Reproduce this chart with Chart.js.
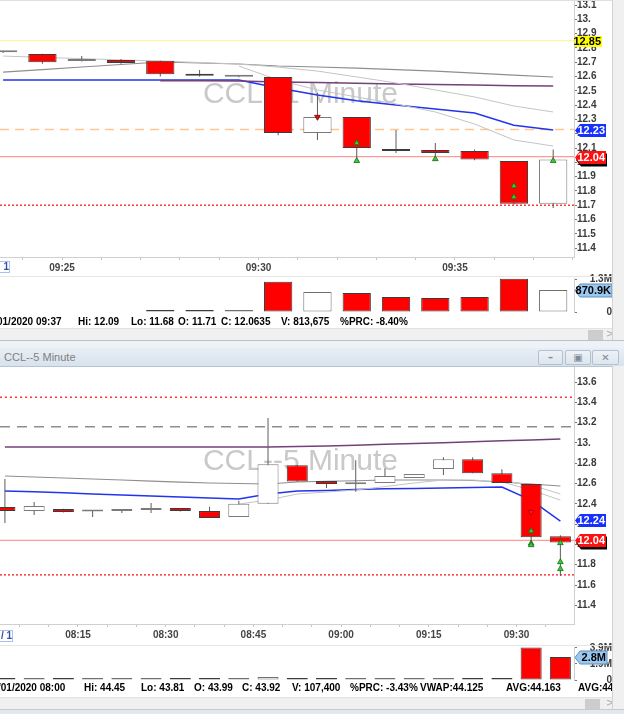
<!DOCTYPE html>
<html>
<head>
<meta charset="utf-8">
<script src="https://cdn.jsdelivr.net/npm/chart.js@4.4.1/dist/chart.umd.min.js"></script>
<style>
  body { margin: 0; width: 624px; height: 714px; position: relative; overflow: hidden; background: #fff; font-family: "Liberation Sans", Arial, sans-serif; }
  canvas { position: absolute; left: 0; }
  .abs { position: absolute; }
  .status { position: absolute; font: bold 10px "Liberation Sans", Arial, sans-serif; color: #000; white-space: pre; }
  .status span { position: absolute; top: 0; }
  .scroll { position: absolute; left: 0; width: 612px; height: 11px; background: #f0f0f0; border-top: 1px solid #e3e3e3; }
  .thumb { position: absolute; top: 1px; width: 15px; height: 10px; background: #cdcdcd; }
  .arrow { position: absolute; top: -1px; left: 606px; font: 10px "DejaVu Sans", sans-serif; color: #a8a8a8; }
  .rframe { position: absolute; left: 612px; width: 12px; background: #f0f0f0; border-left: 1px solid #d2d2d2; }
  .btn { position: absolute; top: 350px; height: 13px; background: linear-gradient(#eef2f7, #dde5ee); border: 1px solid #b3c0ce; border-radius: 2px; text-align: center; font: bold 10px "DejaVu Sans", sans-serif; color: #7d8a98; line-height: 13px; }
</style>
</head>
<body>

<canvas id="topPrice" width="612" height="287" style="top:-10px"></canvas>
<canvas id="topVol" width="612" height="50" style="top:270px"></canvas>
<div class="abs" style="left:0;top:0;width:612px;height:1px;background:#e0e0e0"></div>
<div class="abs" style="left:0;top:276px;width:612px;height:1px;background:#e6e6e6"></div>
<div class="abs" style="left:-3px;top:261px;width:11px;height:10px;border:1px solid #a9c1f0;font:bold 10px 'Liberation Sans',Arial;color:#3050a0;text-align:right;line-height:10px">1</div>

<div class="status" style="left:0;top:316px">
  <span style="left:-3px">01/2020 09:37</span><span style="left:78px">Hi: 12.09</span><span style="left:131px">Lo: 11.68</span><span style="left:178px">O: 11.71</span><span style="left:221px">C: 12.0635</span><span style="left:281px">V: 813,675</span><span style="left:340px">%PRC: -8.40%</span>
</div>
<div class="scroll" style="top:328px"><div class="thumb" style="left:588px"></div><div class="arrow">&gt;</div></div>
<div class="rframe" style="top:0;height:341px"></div>

<div class="abs" style="left:0;top:340px;width:624px;height:8px;background:#eef1f5;border-top:1px solid #b9c2cc"></div>
<div class="abs" style="left:0;top:348px;width:624px;height:18px;background:linear-gradient(#e8eef5,#d8e2ed);border-bottom:1px solid #b6c4d4"></div>
<div class="abs" style="left:4px;top:351px;font:11px 'Liberation Sans',Arial;color:#808080">CCL--5 Minute</div>
<div class="btn" style="left:538px;width:23px">&#8211;</div>
<div class="btn" style="left:565px;width:24px">&#9635;</div>
<div class="btn" style="left:592px;width:25px">&#10005;</div>

<canvas id="bottomPrice" width="612" height="287" style="top:357px"></canvas>
<canvas id="bottomVol" width="612" height="49" style="top:639px"></canvas>
<div class="abs" style="left:0;top:645px;width:612px;height:1px;background:#e6e6e6"></div>
<div class="abs" style="left:-3px;top:630px;width:14px;height:10px;border:1px solid #a9c1f0;font:bold 10px 'Liberation Sans',Arial;color:#3050a0;text-align:right;line-height:10px">/ 1</div>

<div class="status" style="left:0;top:682px">
  <span style="left:-2px">/01/2020 08:00</span><span style="left:84px">Hi: 44.45</span><span style="left:141px">Lo: 43.81</span><span style="left:194px">O: 43.99</span><span style="left:242px">C: 43.92</span><span style="left:292px">V: 107,400</span><span style="left:350px">%PRC: -3.43%</span><span style="left:420px">VWAP:44.125</span><span style="left:506px">AVG:44.163</span><span style="left:578px">AVG:44.0</span>
</div>
<div class="scroll" style="top:697px"><div class="thumb" style="left:585px"></div><div class="arrow">&gt;</div></div>
<div class="rframe" style="top:366px;height:348px"></div>
<div class="abs" style="left:0;top:709px;width:624px;height:5px;background:#e3e8ee;border-top:1px solid #c3ccd6"></div>

<script>
// ---- 1-minute window (top) ----
const topTimes = ['09:23', '09:24', '09:25', '09:26', '09:27', '09:28', '09:29', '09:30', '09:31', '09:32', '09:33', '09:34', '09:35', '09:36', '09:37'];
const topOpen  = [12.770, 12.757, 12.708, 12.715, 12.710, 12.618, 12.598, 12.596, 12.205, 12.317, 12.093, 12.086, 12.080, 12.010, 11.710];
const topHigh  = [12.775, 12.760, 12.743, 12.722, 12.710, 12.645, 12.610, 12.596, 12.485, 12.317, 12.226, 12.135, 12.090, 12.010, 12.090];
const topLow   = [12.765, 12.690, 12.705, 12.690, 12.600, 12.600, 12.595, 12.190, 12.156, 12.002, 12.065, 12.015, 12.015, 11.705, 11.680];
const topClose = [12.772, 12.700, 12.722, 12.695, 12.615, 12.605, 12.600, 12.205, 12.317, 12.100, 12.080, 12.065, 12.020, 11.710, 12.020];
const topVolume = [null, null, null, null, 8000, 8000, 8000, 1188000, 792000, 752000, 594000, 554000, 594000, 1307000, 870900];

const topVwap     = [12.576, 12.576, 12.576, 12.576, 12.576, 12.576, 12.576, 12.520, 12.470, 12.430, 12.400, 12.373, 12.345, 12.260, 12.226];
const topPurple   = [null, null, null, null, 12.570, 12.570, 12.568, 12.562, 12.558, 12.553, 12.548, 12.544, 12.540, 12.536, 12.533];
const topSma      = [12.631, 12.648, 12.666, 12.684, 12.701, 12.694, 12.687, 12.673, 12.666, 12.659, 12.648, 12.638, 12.624, 12.610, 12.597];
const topBandUp   = [12.743, 12.734, 12.725, 12.716, 12.708, 12.698, 12.687, 12.666, 12.638, 12.597, 12.555, 12.506, 12.457, 12.394, 12.352];
const topBandLow  = [null, null, null, null, null, null, 12.673, 12.576, 12.506, 12.457, 12.408, 12.352, 12.268, 12.156, 12.114];

const topUpMarks   = [['09:32', 12.135], ['09:32', 12.010], ['09:34', 12.023], ['09:36', 11.834], ['09:36', 11.757], ['09:37', 12.010]];
const topDownMarks = [['09:31', 12.317]];

const topPriceTicks = [11.4, 11.5, 11.6, 11.7, 11.8, 11.9, 12.0, 12.1, 12.2, 12.3, 12.4, 12.5, 12.6, 12.7, 12.8, 12.9, 13.0, 13.1];
const topVolTicks = [0, 1300000];

// ---- 5-minute window (bottom) ----
const botTimes = ['08:00', '08:05', '08:10', '08:15', '08:20', '08:25', '08:30', '08:35', '08:40', '08:45', '08:50', '08:55', '09:00', '09:05', '09:10', '09:15', '09:20', '09:25', '09:30', '09:35'];
const botOpen  = [12.368, 12.329, 12.349, 12.324, 12.330, 12.339, 12.359, 12.329, 12.270, 12.400, 12.780, 12.625, 12.594, 12.605, 12.654, 12.743, 12.840, 12.700, 12.595, 12.080];
const botHigh  = [12.644, 12.418, 12.352, 12.334, 12.349, 12.408, 12.360, 12.370, 12.430, 13.245, 12.780, 12.625, 12.830, 12.750, 12.694, 12.860, 12.860, 12.740, 12.595, 12.090];
const botLow   = [12.211, 12.290, 12.315, 12.270, 12.310, 12.310, 12.325, 12.260, 12.270, 12.400, 12.620, 12.555, 12.520, 12.605, 12.654, 12.683, 12.700, 12.605, 11.990, 11.690];
const botClose = [12.329, 12.378, 12.319, 12.326, 12.332, 12.359, 12.329, 12.260, 12.400, 12.790, 12.620, 12.595, 12.596, 12.675, 12.694, 12.840, 12.700, 12.605, 12.070, 12.020];
const botVolume = [90000, 80000, 85000, 80000, 75000, 80000, 70000, 95000, 90000, 360000, 70000, 90000, 80000, 70000, 75000, 95000, 70000, 75000, 3950000, 2800000];

const botVwap    = [12.526, 12.518, 12.508, 12.498, 12.488, 12.478, 12.468, 12.458, 12.447, 12.497, 12.526, 12.532, 12.540, 12.548, 12.552, 12.556, 12.562, 12.566, 12.437, 12.230];
const botPurple  = [12.960, 12.960, 12.960, 12.960, 12.960, 12.960, 12.960, 12.960, 12.960, 12.960, 12.965, 12.970, 12.978, 12.986, 12.994, 13.002, 13.012, 13.022, 13.030, 13.038];
const botSma     = [12.674, 12.664, 12.654, 12.644, 12.634, 12.624, 12.614, 12.605, 12.600, 12.595, 12.615, 12.622, 12.628, 12.635, 12.635, 12.635, 12.630, 12.615, 12.595, 12.575];
const botBandUp  = [null, null, null, null, null, null, null, null, null, null, null, null, null, null, null, null, null, 12.625, 12.585, 12.497];
const botBandLow = [null, null, null, null, null, null, null, null, 12.398, 12.437, 12.497, 12.516, 12.536, 12.570, 12.605, 12.635, 12.635, 12.615, 12.536, 12.437];

const botUpMarks   = [['09:30', 12.132], ['09:30', 12.010], ['09:30', 11.994], ['09:35', 12.014], ['09:35', 11.827], ['09:35', 11.758]];
const botDownMarks = [['09:30', 12.319]];

const botPriceTicks = [11.4, 11.6, 11.8, 12.0, 12.2, 12.4, 12.6, 12.8, 13.0, 13.2, 13.4, 13.6];
const botVolTicks = [0, 1950000, 3900000];

const FONT = '"Liberation Sans", Arial, sans-serif';
const toMin = s => { const [h, m] = s.split(':').map(Number); return h * 60 + m; };
const hhmm = m => String(Math.floor(m / 60)).padStart(2, '0') + ':' + String(m % 60).padStart(2, '0');
const priceLabel = v => (Math.abs(v - Math.round(v)) < 1e-9 ? Math.round(v) + '.' : v.toFixed(1));
const volLabel = v => (v === 0 ? '0' : (Math.floor(v / 1e5) / 10).toFixed(1) + 'M');
// keep the axes from adding their own label padding around the plot
const fixWidth = s => { s.width = 38; s.paddingTop = 0; s.paddingBottom = 0; };
const fixHeight = s => { s.height = 20; s.paddingLeft = 0; s.paddingRight = 0; };

function candleSets(times, half, o, h, l, c) {
  const xs = times.map(t => toMin(t) + half);
  const up = c.map((v, i) => v >= o[i]);
  return [
    { type: 'bar', data: xs.map((x, i) => ({ x, y: [l[i], h[i]] })), backgroundColor: '#5c5c5c', borderWidth: 0,
      maxBarThickness: 1, grouped: false, order: 3 },
    { type: 'bar', data: xs.map((x, i) => ({ x, y: [o[i], c[i]] })),
      backgroundColor: up.map(u => (u ? '#ffffff' : '#ff0000')), borderColor: up.map(u => (u ? '#7a7a7a' : '#3c3c3c')),
      borderWidth: 1, borderSkipped: false, minBarLength: 2, barPercentage: 0.72, categoryPercentage: 1, grouped: false, order: 2 }
  ];
}

function lineSet(times, half, vals, color, width) {
  return { type: 'line', data: times.map((t, i) => ({ x: toMin(t) + half, y: vals[i] })).filter(p => p.y !== null),
    borderColor: color, borderWidth: width, pointRadius: 0, tension: 0, fill: false, order: 5 };
}

function levelSet(y, xMin, xMax, color, dash, width) {
  return { type: 'line', data: [{ x: xMin, y }, { x: xMax, y }], borderColor: color, borderDash: dash,
    borderWidth: width, pointRadius: 0, fill: false, order: 8 };
}

function markSet(marks, half, fill, border, rotation) {
  return { type: 'scatter', data: marks.map(([t, y]) => ({ x: toMin(t) + half, y })), pointStyle: 'triangle',
    pointRadius: 3.3, backgroundColor: fill, borderColor: border, borderWidth: 0.8, rotation, order: 1 };
}

function watermark(text) {
  return { id: 'watermark', beforeDatasetsDraw(chart) {
    const ctx = chart.ctx;
    ctx.save();
    ctx.font = '30px ' + FONT;
    ctx.fillStyle = '#c9c9c9';
    ctx.textAlign = 'right';
    ctx.textBaseline = 'alphabetic';
    ctx.fillText(text, 398, chart.chartArea.top + 103);
    ctx.restore();
  } };
}

// coloured value tags on the right axis
function tagPlugin(tags) {
  return { id: 'tags', afterDraw(chart) {
    const ctx = chart.ctx, sy = chart.scales.y, x0 = chart.chartArea.right;
    tags.forEach(t => {
      const py = Math.round(sy.getPixelForValue(t.value)) + 0.5;
      const hh = 6.5, x1 = x0 + t.w;
      const path = () => {
        ctx.beginPath();
        if (t.arrow) {
          ctx.moveTo(x0 + 1, py); ctx.lineTo(x0 + 6, py - hh); ctx.lineTo(x1, py - hh);
          ctx.lineTo(x1, py + hh); ctx.lineTo(x0 + 6, py + hh); ctx.closePath();
        } else {
          ctx.rect(x0 + 1, py - hh + 1, t.w - 1, hh * 2 - 2);
        }
      };
      ctx.save();
      if (t.shadow) {
        ctx.save(); ctx.translate(1, 2.5); path(); ctx.fillStyle = '#000'; ctx.fill(); ctx.restore();
      }
      path();
      ctx.fillStyle = t.bg; ctx.fill();
      if (t.edge) { ctx.strokeStyle = t.edge; ctx.lineWidth = 1; ctx.stroke(); }
      ctx.fillStyle = t.fg;
      ctx.font = 'bold ' + (t.size || 11) + 'px ' + FONT;
      ctx.textBaseline = 'middle';
      ctx.textAlign = 'right';
      ctx.fillText(t.text, x1 - 1, py + 0.5);
      ctx.restore();
    });
  } };
}

function priceChart(id, o) {
  return new Chart(document.getElementById(id), {
    type: 'bar',
    data: { datasets: o.datasets },
    options: {
      responsive: false, animation: false,
      layout: { autoPadding: false, padding: { top: 10, left: 0, right: 0, bottom: 0 } },
      plugins: { legend: { display: false }, tooltip: { enabled: false } },
      scales: {
        x: {
          type: 'linear', min: o.xMin, max: o.xMax, offset: false,
          afterFit: fixHeight,
          ticks: { stepSize: o.step, includeBounds: false, autoSkip: false, maxRotation: 0, padding: 2,
            font: { family: FONT, size: 10, weight: 'bold' }, color: '#444',
            callback: v => (Math.round(v) % o.every === 0 ? hhmm(Math.round(v)) : '') },
          grid: { drawOnChartArea: false, tickLength: 3, color: '#c4c4c4', offset: false },
          border: { color: '#d0d0d0' }
        },
        y: {
          position: 'right', min: o.yMin, max: o.yMax,
          afterFit: fixWidth,
          afterBuildTicks: s => { s.ticks = o.ticks.map(v => ({ value: v })); },
          ticks: { padding: 0, font: { family: FONT, size: 10, weight: 'bold' }, color: '#3a3a3a', callback: v => priceLabel(v) },
          grid: { drawOnChartArea: false, tickLength: 3, color: '#777' },
          border: { color: '#d0d0d0' }
        }
      }
    },
    plugins: [watermark(o.title), tagPlugin(o.tags)]
  });
}

function volChart(id, o) {
  const xs = o.times.map(t => toMin(t) + o.half);
  const up = o.close.map((v, i) => v >= o.open[i]);
  return new Chart(document.getElementById(id), {
    type: 'bar',
    data: { datasets: [{ data: xs.map((x, i) => ({ x, y: o.volume[i] })),
      backgroundColor: up.map(u => (u ? '#ffffff' : '#ff0000')), borderColor: up.map(u => (u ? '#707070' : '#3c3c3c')),
      borderWidth: 1, borderSkipped: false, minBarLength: 2, barPercentage: 0.72, categoryPercentage: 1, grouped: false }] },
    options: {
      responsive: false, animation: false,
      layout: { autoPadding: false, padding: { top: 8, left: 0, right: 0, bottom: 8 } },
      plugins: { legend: { display: false }, tooltip: { enabled: false } },
      scales: {
        x: { type: 'linear', min: o.xMin, max: o.xMax, offset: false, display: false },
        y: {
          position: 'right', min: 0, max: o.yMax,
          afterFit: fixWidth,
          afterBuildTicks: s => { s.ticks = o.ticks.map(v => ({ value: v })); },
          ticks: { padding: o.pad, crossAlign: 'far', font: { family: FONT, size: 10, weight: 'bold' }, color: '#3a3a3a', callback: v => volLabel(v) },
          grid: { drawOnChartArea: false, tickLength: 3, color: '#777' },
          border: { color: '#d0d0d0' }
        }
      }
    },
    plugins: [tagPlugin(o.tags)]
  });
}

// top: 1 minute bars, centred half a minute after their start
const tX0 = 563.42, tX1 = 578.03;
priceChart('topPrice', {
  title: 'CCL--1 Minute', xMin: tX0, xMax: tX1, step: 1, every: 5, yMin: 11.338, yMax: 13.135, ticks: topPriceTicks,
  datasets: [
    levelSet(12.85, tX0, tX1, '#f4f48c', [], 1.2),
    levelSet(12.23, tX0, tX1, '#ffc78f', [9, 6], 1.4),
    levelSet(12.04, tX0, tX1, '#ff9a9a', [], 1.4),
    levelSet(11.70, tX0, tX1, '#ff2a2a', [2, 2], 1.4),
    lineSet(topTimes, 0.5, topBandUp, '#c4c4c4', 1),
    lineSet(topTimes, 0.5, topBandLow, '#c4c4c4', 1),
    lineSet(topTimes, 0.5, topSma, '#8e8e8e', 1.1),
    lineSet(topTimes, 0.5, topPurple, '#74407a', 1.5),
    lineSet(topTimes, 0.5, topVwap, '#2234ee', 1.5),
    ...candleSets(topTimes, 0.5, topOpen, topHigh, topLow, topClose),
    markSet(topUpMarks, 0.5, '#2fd02f', '#1c6a1c', 0),
    markSet(topDownMarks, 0.5, '#e01010', '#700000', 180)
  ],
  tags: [
    { value: 12.85, text: '12.85', bg: '#ffff00', fg: '#000', w: 28 },
    { value: 12.226, text: '12.23', bg: '#1530ff', fg: '#fff', w: 32, arrow: true },
    { value: 12.04, text: '12.04', bg: '#ff1010', fg: '#fff', w: 32, arrow: true, shadow: true }
  ]
});
volChart('topVol', {
  times: topTimes, half: 0.5, open: topOpen, close: topClose, volume: topVolume, xMin: tX0, xMax: tX1,
  yMax: 1340000, ticks: topVolTicks, pad: 9,
  tags: [{ value: 870900, text: '870.9K', bg: '#9cc8ee', fg: '#000', edge: '#5b8fc4', w: 38, arrow: true, size: 11 }]
});

// bottom: 5 minute bars, centred 2.5 minutes after their start
const bX0 = 481.66, bX1 = 579.83;
priceChart('bottomPrice', {
  title: 'CCL--5 Minute', xMin: bX0, xMax: bX1, step: 5, every: 15, yMin: 11.216, yMax: 13.748, ticks: botPriceTicks,
  datasets: [
    levelSet(13.45, bX0, bX1, '#ff3535', [2, 3], 1.4),
    levelSet(13.16, bX0, bX1, '#8e8e8e', [10, 7], 1.4),
    levelSet(12.04, bX0, bX1, '#ff9a9a', [], 1.4),
    levelSet(11.70, bX0, bX1, '#ff2a2a', [2, 2], 1.4),
    lineSet(botTimes, 2.5, botBandUp, '#c4c4c4', 1),
    lineSet(botTimes, 2.5, botBandLow, '#c4c4c4', 1),
    lineSet(botTimes, 2.5, botSma, '#8e8e8e', 1.1),
    lineSet(botTimes, 2.5, botPurple, '#74407a', 1.5),
    lineSet(botTimes, 2.5, botVwap, '#2234ee', 1.5),
    ...candleSets(botTimes, 2.5, botOpen, botHigh, botLow, botClose),
    markSet(botUpMarks, 2.5, '#2fd02f', '#1c6a1c', 0),
    markSet(botDownMarks, 2.5, 'rgba(255,60,60,0.35)', '#b00000', 180)
  ],
  tags: [
    { value: 12.24, text: '12.24', bg: '#1530ff', fg: '#fff', w: 32, arrow: true },
    { value: 12.04, text: '12.04', bg: '#ff1010', fg: '#fff', w: 32, arrow: true, shadow: true }
  ]
});
volChart('bottomVol', {
  times: botTimes, half: 2.5, open: botOpen, close: botClose, volume: botVolume, xMin: bX0, xMax: bX1,
  yMax: 4020000, ticks: botVolTicks, pad: 7,
  tags: [{ value: 2800000, text: '2.8M', bg: '#9cc8ee', fg: '#000', edge: '#5b8fc4', w: 33, arrow: true, size: 11 }]
});
</script>
</body>
</html>
